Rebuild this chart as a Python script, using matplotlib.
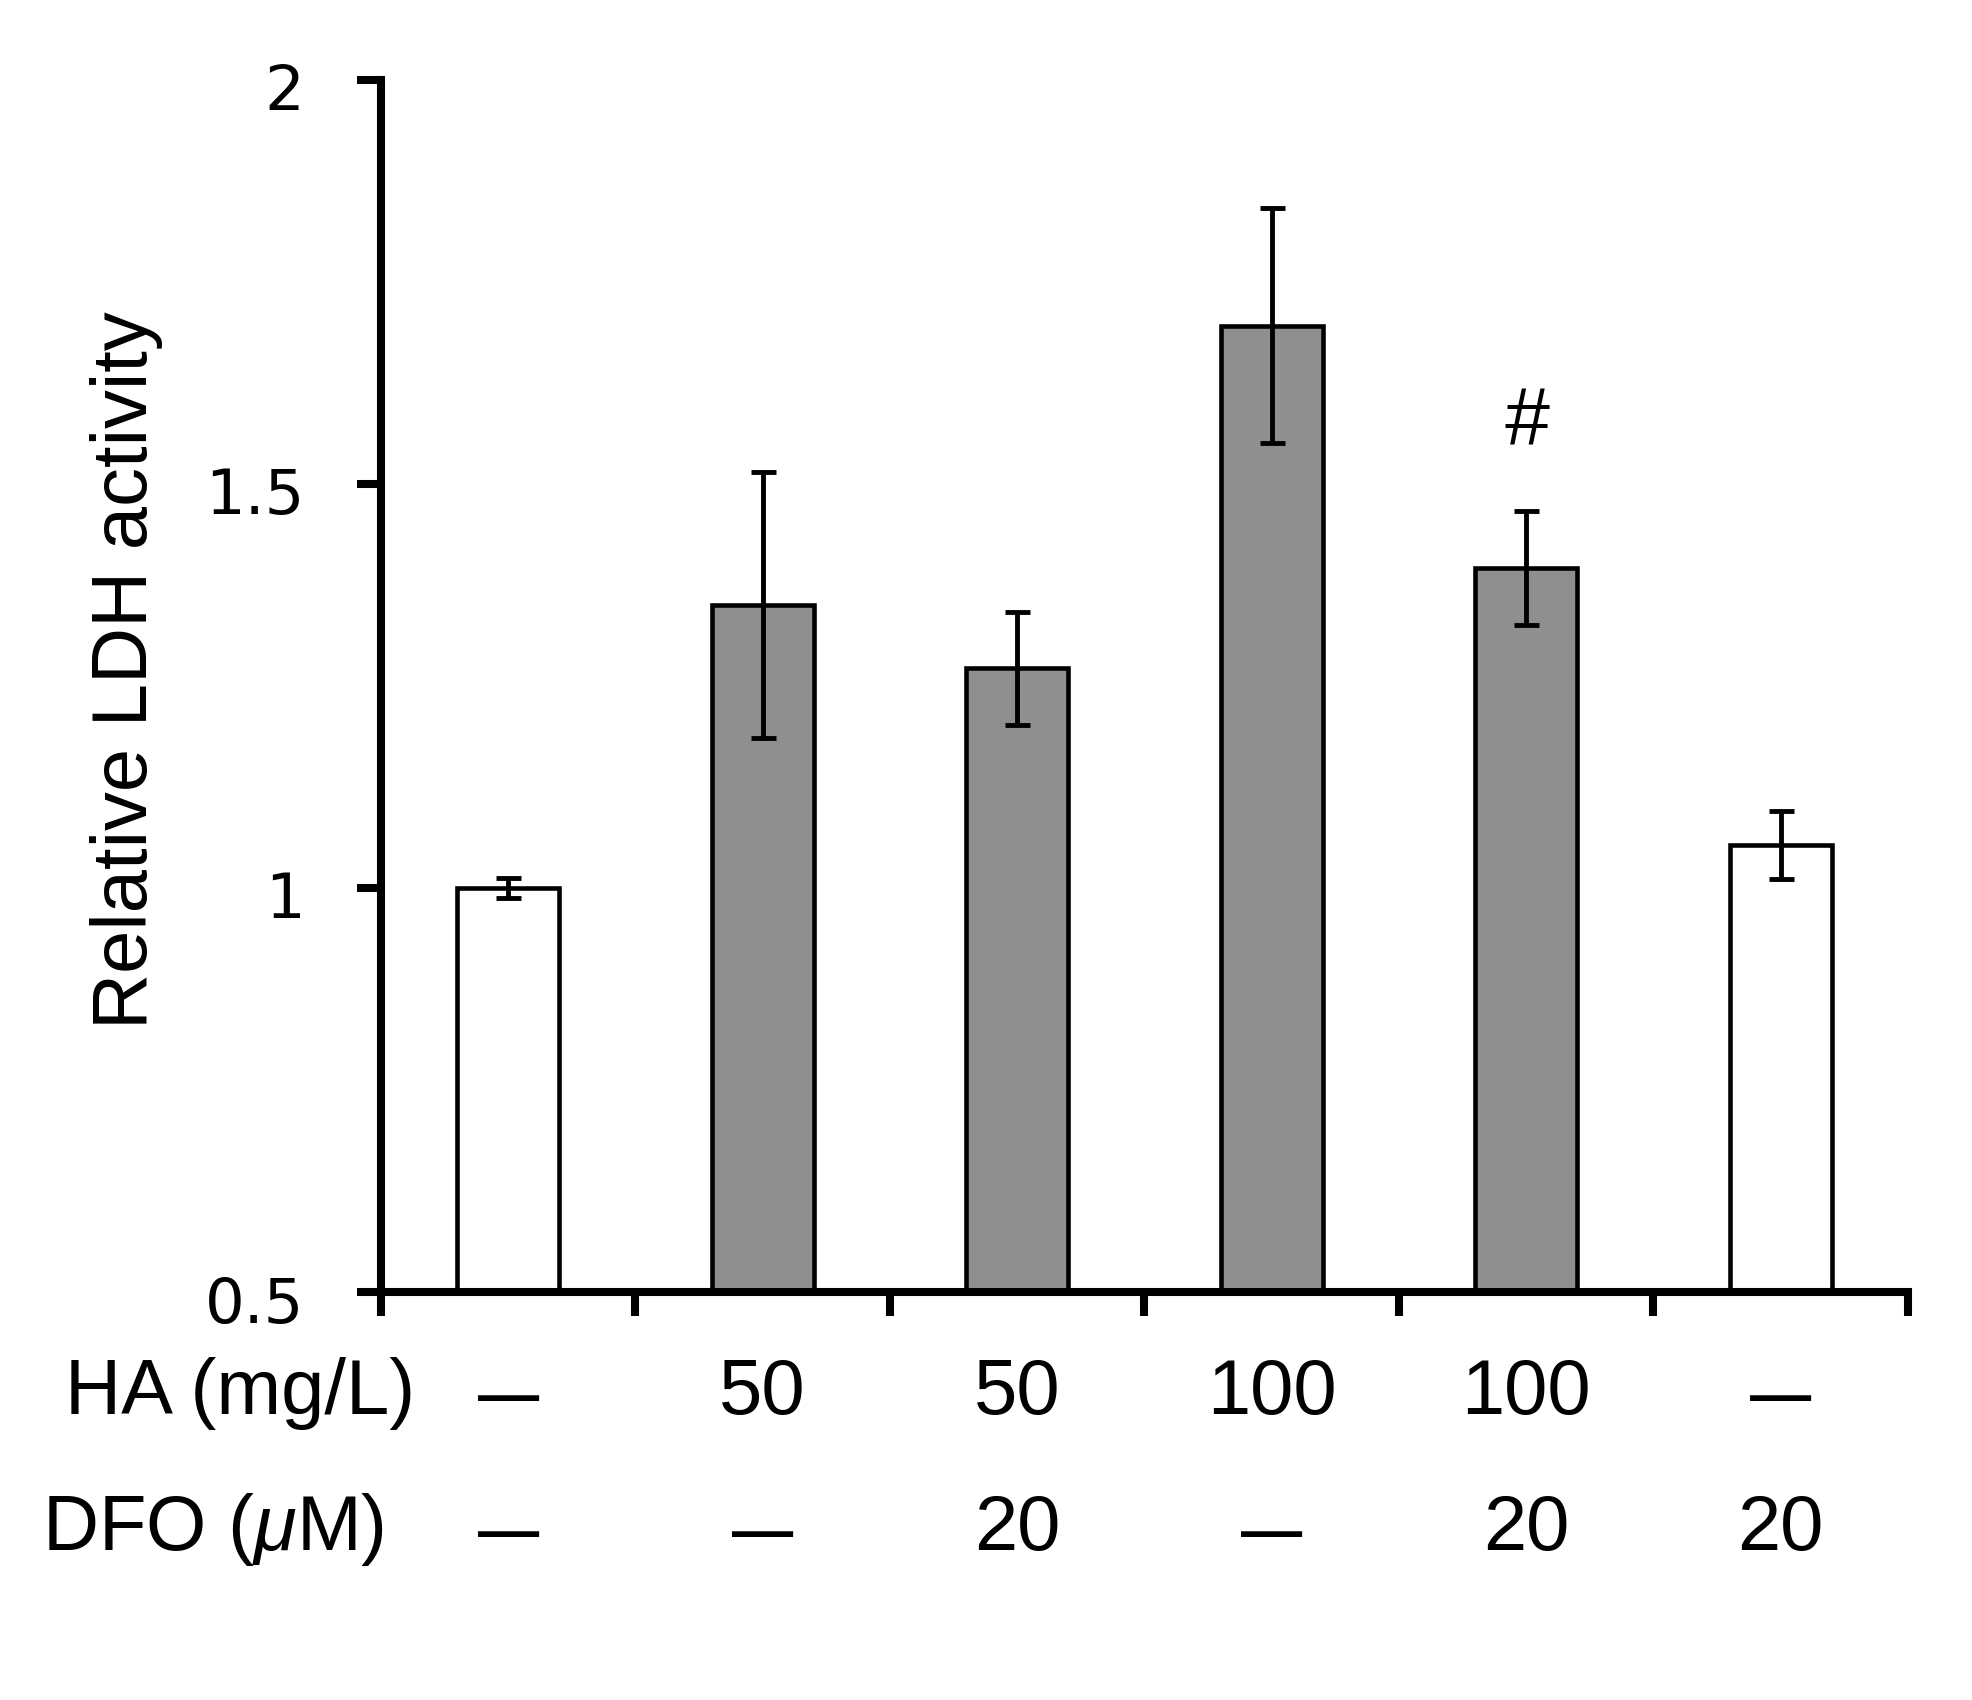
import matplotlib
matplotlib.use('Agg')
import matplotlib.pyplot as plt
import matplotlib.transforms as mtransforms
import numpy as np

# values
ha_labels = ['—', '50', '50', '100', '100', '—']
dfo_labels = ['—', '—', '20', '—', '20', '20']
ldh = [1.0, 1.35, 1.272, 1.696, 1.396, 1.053]
ldh_err = [0.012, 0.165, 0.07, 0.145, 0.07, 0.042]
bar_colors = ['white', '#8f8f8f', '#8f8f8f', '#8f8f8f', '#8f8f8f', 'white']
yticks = [0.5, 1, 1.5, 2]
ytick_labels = ['0.5', '1', '1.5', '2']

plt.rcParams['mathtext.fontset'] = 'custom'
plt.rcParams['mathtext.rm'] = 'Liberation Sans'
plt.rcParams['mathtext.it'] = 'Liberation Sans:italic'

fig = plt.figure(figsize=(19.72, 17), dpi=100)
ax = fig.add_axes([0.1932, 0.24, 0.7743, 0.713])

x = np.arange(len(ldh)) + 0.5
ax.bar(x, np.array(ldh) - 0.5, bottom=0.5, width=0.4, color=bar_colors,
       edgecolor='black', linewidth=3.3, zorder=2)
ax.errorbar(x, ldh, yerr=ldh_err, fmt='none', ecolor='black',
            elinewidth=3.5, capsize=9, capthick=3.5, zorder=3)

ax.set_xlim(0, 6)
ax.set_ylim(0.5, 2)
ax.set_xticks(np.arange(7))
ax.set_xticklabels([])
ax.set_yticks(yticks)
ax.set_yticklabels(ytick_labels, fontsize=45, family='DejaVu Sans')
ax.tick_params(axis='both', direction='out', length=17, width=5.8, color='black')
ax.tick_params(axis='y', pad=38)
for lab in ax.get_yticklabels():
    lab.set_transform(lab.get_transform() +
                      mtransforms.ScaledTranslation(0, -7 / 100, fig.dpi_scale_trans))

for s in ['top', 'right']:
    ax.spines[s].set_visible(False)
for s in ['left', 'bottom']:
    ax.spines[s].set_linewidth(5.8)

# significance mark
ax.text(x[4], 1.575, '#', fontsize=58, style='italic', family='Liberation Sans',
        ha='center', va='center')

# treatment rows under the axis
trans = mtransforms.blended_transform_factory(ax.transData, ax.transAxes)
for xi, h, d in zip(x, ha_labels, dfo_labels):
    for txt, yy in [(h, -0.084), (d, -0.196)]:
        if txt == '—':
            ax.text(xi, yy - 0.004, txt, transform=trans, ha='center', va='center',
                    fontsize=44, fontweight='bold', family='Liberation Sans')
        else:
            ax.text(xi, yy, txt, transform=trans, ha='center', va='center',
                    fontsize=56, family='Liberation Sans')

fig.text(0.2104, 0.18, 'HA (mg/L)', ha='right', va='center', fontsize=56,
         family='Liberation Sans')
fig.text(0.1947, 0.10, r'DFO ($\mu$M)', ha='right', va='center', fontsize=56,
         family='Liberation Sans')
fig.text(0.0644, 0.606, 'Relative LDH activity', rotation=90, ha='center',
         va='center', fontsize=56, family='Liberation Sans')

fig.savefig('out.png', dpi=100)
